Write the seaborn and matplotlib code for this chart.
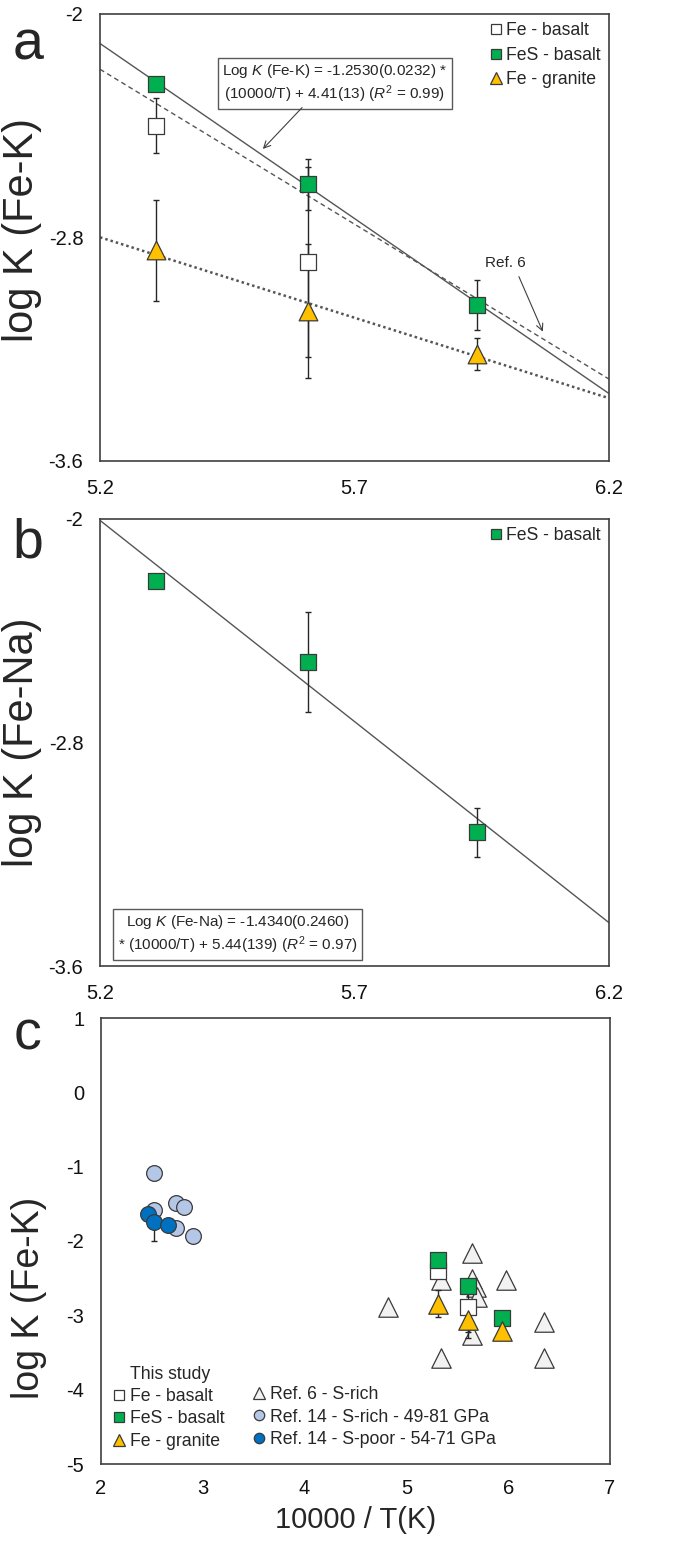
import matplotlib
matplotlib.use("Agg")
import matplotlib.pyplot as plt
import numpy as np
import pandas as pd
import seaborn as sns
from matplotlib.lines import Line2D
from matplotlib.ticker import MultipleLocator, FixedLocator, FormatStrFormatter

# ---------------- data ----------------
# This study (10000/T)
x_study = [5.311, 5.609, 5.941]
fe_basalt_x = [5.311, 5.609]
fe_basalt_y = [-2.400, -2.889]
fe_basalt_err = [0.098, 0.34]
fes_basalt_y = [-2.251, -2.610, -3.042]
fes_basalt_err = [0.0, 0.09, 0.09]
fe_granite_y = [-2.845, -3.063, -3.217]
fe_granite_err = [0.181, 0.24, 0.057]

# fit lines (slope, intercept)
fit_fes_a = (-1.253, 4.41)
fit_ref6_a = (-1.109, 3.569)
fit_granite_a = (-0.576, 0.196)

# panel b: Fe-Na
fes_na_y = [-2.221, -2.513, -3.122]
fes_na_err = [0.0, 0.179, 0.089]
fit_fes_b = (-1.440, 5.483)

# panel c: literature
ref6_x = [4.82, 5.34, 5.34, 5.64, 5.64, 5.68, 5.69, 5.64, 5.98, 6.355, 6.355]
ref6_y = [-2.89, -2.53, -3.58, -2.16, -2.51, -2.62, -2.75, -3.27, -2.53, -3.09, -3.58]
ref14_rich_x = [2.52, 2.52, 2.74, 2.82, 2.74, 2.90]
ref14_rich_y = [-1.09, -1.58, -1.49, -1.54, -1.82, -1.93]
ref14_poor_x = [2.46, 2.52, 2.66]
ref14_poor_y = [-1.64, -1.75, -1.79]
ref14_poor_err = [0.0, 0.25, 0.0]

# ---------------- style ----------------
sns.set_theme(style="white")
plt.rcParams['font.family'] = ['Liberation Sans', 'DejaVu Sans']
plt.rcParams['mathtext.fontset'] = 'custom'
plt.rcParams['mathtext.rm'] = 'Liberation Sans'
plt.rcParams['mathtext.it'] = 'Liberation Sans:italic'
plt.rcParams['mathtext.bf'] = 'Liberation Sans:bold'

GREEN = '#00B050'
YELLOW = '#FFC000'
LBLUE = '#B4C7E7'
DBLUE = '#0070C0'
TRI = '#F2F2F2'
EDGE = '#3a3a3a'
LINE = '#555555'
SPINE = '#404040'

W, H = 685, 1546
fig = plt.figure(figsize=(W / 100, H / 100), dpi=100)


def axes_px(l, t, r, b):
    return fig.add_axes([l / W, 1 - b / H, (r - l) / W, (b - t) / H])


axa = axes_px(100, 14, 609, 461)
axb = axes_px(100, 519, 609, 966)
axc = axes_px(101, 1018, 610, 1464)


def style_axes(ax, xpad, ypad):
    for side in ['top', 'right', 'left', 'bottom']:
        ax.spines[side].set_visible(True)
        ax.spines[side].set_color(SPINE)
        ax.spines[side].set_linewidth(1.2)
    ax.tick_params(which='both', direction='in', length=4, width=1,
                   color=SPINE, top=False, right=False, labelsize=14.5,
                   labelcolor='#111111')
    ax.tick_params(axis='x', which='both', pad=xpad)
    ax.tick_params(axis='y', which='both', pad=ypad)
    ax.grid(False)


def fit_line(ax, fit, x0, x1, ls, lw):
    xs = [x0, x1]
    df = pd.DataFrame({'x': xs, 'y': [fit[0] * v + fit[1] for v in xs]})
    sns.lineplot(data=df, x='x', y='y', ax=ax, color=LINE, lw=lw,
                 linestyle=ls, zorder=1, legend=False)


def errbars(ax, x, y, e):
    ax.errorbar(x, y, yerr=e, fmt='none', ecolor='#262626', elinewidth=1,
                capsize=2.5, capthick=1, zorder=2)


def scat(ax, x, y, marker, s, color, z):
    sns.scatterplot(x=x, y=y, ax=ax, marker=marker, s=s, color=color,
                    edgecolor=EDGE, linewidth=0.9, zorder=z, legend=False)


# ---------------- panel a ----------------
fit_line(axa, fit_fes_a, 5.2, 6.2, '-', 1.0)
fit_line(axa, fit_ref6_a, 5.2, 6.2, (0, (3.5, 2.5)), 1.0)
fit_line(axa, fit_granite_a, 5.2, 6.2, (0, (1, 1.2)), 1.8)

errbars(axa, fe_basalt_x, fe_basalt_y, fe_basalt_err)
errbars(axa, x_study, fes_basalt_y, fes_basalt_err)
errbars(axa, x_study, fe_granite_y, fe_granite_err)
scat(axa, fe_basalt_x, fe_basalt_y, 's', 117, 'white', 3)
scat(axa, x_study, fes_basalt_y, 's', 117, GREEN, 4)
scat(axa, x_study, fe_granite_y, '^', 180, YELLOW, 5)

axa.set_xlim(5.2, 6.2)
axa.set_ylim(-3.6, -2.0)
axa.xaxis.set_major_locator(FixedLocator([5.2, 5.7, 6.2]))
axa.xaxis.set_minor_locator(MultipleLocator(0.1))
axa.yaxis.set_major_locator(FixedLocator([-2.0, -2.8, -3.6]))
axa.yaxis.set_minor_locator(FixedLocator([-2.0 - 0.16 * k for k in range(11)]))
axa.xaxis.set_major_formatter(FormatStrFormatter('%g'))
axa.yaxis.set_major_formatter(FormatStrFormatter('%g'))
style_axes(axa, 13, 12)
axa.set_xlabel('')
axa.set_ylabel('log K (Fe-K)', fontsize=30)
axa.yaxis.set_label_coords(-0.114, 0.517)

axa.text(5.661, -2.248,
         'Log $\\mathit{K}$ (Fe-K) = -1.2530(0.0232) *\n'
         '(10000/T) + 4.41(13) ($\\mathit{R}^2$ = $\\mathit{0.99}$)',
         ha='center', va='center', fontsize=11, multialignment='center',
         bbox=dict(boxstyle='square,pad=0.3', fc='white', ec='#595959', lw=1),
         zorder=6)
axa.annotate('', xy=(5.520, -2.483), xytext=(5.597, -2.335),
             arrowprops=dict(arrowstyle='->', color='#404040', lw=0.8,
                             shrinkA=0, shrinkB=0), zorder=6)
axa.text(5.997, -2.893, 'Ref. 6', ha='center', va='center', fontsize=11)
axa.annotate('', xy=(6.070, -3.137), xytext=(6.023, -2.94),
             arrowprops=dict(arrowstyle='->', color='#404040', lw=0.8,
                             shrinkA=0, shrinkB=0))

h_fe = Line2D([], [], ls='none', marker='s', ms=7, mfc='white', mec=EDGE, mew=0.9)
h_fes = Line2D([], [], ls='none', marker='s', ms=7, mfc=GREEN, mec=EDGE, mew=0.9)
h_gr = Line2D([], [], ls='none', marker='^', ms=8, mfc=YELLOW, mec=EDGE, mew=0.9)
h_r6 = Line2D([], [], ls='none', marker='^', ms=8, mfc=TRI, mec=EDGE, mew=0.9)
h_r14r = Line2D([], [], ls='none', marker='o', ms=7.5, mfc=LBLUE, mec=EDGE, mew=0.9)
h_r14p = Line2D([], [], ls='none', marker='o', ms=7.5, mfc=DBLUE, mec=EDGE, mew=0.9)

axa.legend([h_fe, h_fes, h_gr], ['Fe - basalt', 'FeS - basalt', 'Fe - granite'],
           loc='upper right', frameon=False, fontsize=12.7, handlelength=0.8,
           handletextpad=0.2, labelspacing=0.44, borderaxespad=0.25,
           borderpad=0.2)

# ---------------- panel b ----------------
fit_line(axb, fit_fes_b, 5.2, 6.2, '-', 1.0)
errbars(axb, x_study, fes_na_y, fes_na_err)
scat(axb, x_study, fes_na_y, 's', 117, GREEN, 4)
axb.set_xlim(5.2, 6.2)
axb.set_ylim(-3.6, -2.0)
axb.xaxis.set_major_locator(FixedLocator([5.2, 5.7, 6.2]))
axb.xaxis.set_minor_locator(MultipleLocator(0.1))
axb.yaxis.set_major_locator(FixedLocator([-2.0, -2.8, -3.6]))
axb.yaxis.set_minor_locator(FixedLocator([-2.0 - 0.16 * k for k in range(11)]))
axb.xaxis.set_major_formatter(FormatStrFormatter('%g'))
axb.yaxis.set_major_formatter(FormatStrFormatter('%g'))
style_axes(axb, 13, 12)
axb.set_xlabel('')
axb.set_ylabel('log K (Fe-Na)', fontsize=30)
axb.yaxis.set_label_coords(-0.114, 0.50)
axb.text(5.470, -3.487,
         'Log $\\mathit{K}$ (Fe-Na) = -1.4340(0.2460)\n'
         '* (10000/T) + 5.44(139) ($\\mathit{R}^2$ = $\\mathit{0.97}$)',
         ha='center', va='center', fontsize=11, multialignment='center',
         bbox=dict(boxstyle='square,pad=0.3', fc='white', ec='#595959', lw=1),
         zorder=6)
axb.legend([h_fes], ['FeS - basalt'], loc='upper right', frameon=False,
           fontsize=12.7, handlelength=0.8, handletextpad=0.2,
           borderaxespad=0.25, borderpad=0.2)

# ---------------- panel c ----------------
scat(axc, ref6_x, ref6_y, '^', 196, TRI, 2)
scat(axc, ref14_rich_x, ref14_rich_y, 'o', 128, LBLUE, 3)
errbars(axc, ref14_poor_x, ref14_poor_y, ref14_poor_err)
scat(axc, ref14_poor_x, ref14_poor_y, 'o', 128, DBLUE, 4)
errbars(axc, fe_basalt_x, fe_basalt_y, fe_basalt_err)
errbars(axc, x_study, fe_granite_y, fe_granite_err)
scat(axc, fe_basalt_x, fe_basalt_y, 's', 121, 'white', 5)
scat(axc, x_study, fes_basalt_y, 's', 121, GREEN, 6)
scat(axc, x_study, fe_granite_y, '^', 196, YELLOW, 7)

axc.set_xlim(2, 7)
axc.set_ylim(-5, 1)
axc.xaxis.set_major_locator(MultipleLocator(1))
axc.xaxis.set_minor_locator(MultipleLocator(0.2))
axc.yaxis.set_major_locator(MultipleLocator(1))
axc.yaxis.set_minor_locator(MultipleLocator(0.2))
axc.xaxis.set_major_formatter(FormatStrFormatter('%g'))
axc.yaxis.set_major_formatter(FormatStrFormatter('%g'))
style_axes(axc, 11, 12)
axc.set_xlabel('10000 / T(K)', fontsize=21)
axc.xaxis.set_label_coords(0.5, -0.094)
axc.set_ylabel('log K (Fe-K)', fontsize=27)
axc.yaxis.set_label_coords(-0.106, 0.373)

axc.text(0.057, 0.20, 'This study', transform=axc.transAxes, fontsize=12.7,
         ha='left', va='center')
leg1 = axc.legend([h_fe, h_fes, h_gr], ['Fe - basalt', 'FeS - basalt', 'Fe - granite'],
                  loc='lower left', bbox_to_anchor=(0.022, 0.032), frameon=False,
                  fontsize=12.7, handlelength=0.8, handletextpad=0.2,
                  labelspacing=0.3, borderaxespad=0, borderpad=0)
axc.add_artist(leg1)
axc.legend([h_r6, h_r14r, h_r14p],
           ['Ref. 6 - S-rich', 'Ref. 14 - S-rich - 49-81 GPa', 'Ref. 14 - S-poor - 54-71 GPa'],
           loc='lower left', bbox_to_anchor=(0.297, 0.036), frameon=False,
           fontsize=12.7, handlelength=0.8, handletextpad=0.2,
           labelspacing=0.3, borderaxespad=0, borderpad=0)

# panel letters
fig.text(28 / W, 1 - 60 / H, 'a', fontsize=40, ha='center', va='baseline')
fig.text(28 / W, 1 - 558 / H, 'b', fontsize=40, ha='center', va='baseline')
fig.text(28 / W, 1 - 1050 / H, 'c', fontsize=40, ha='center', va='baseline')

fig.savefig('out.png', dpi=100)
